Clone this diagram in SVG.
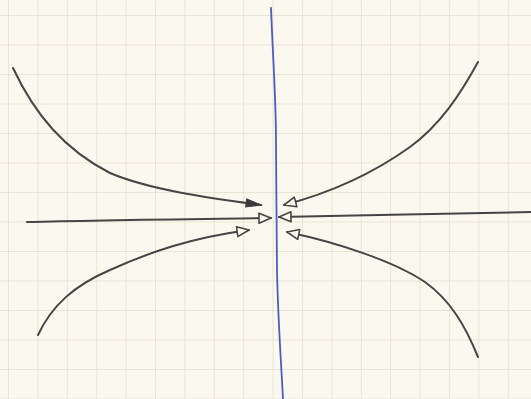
<svg xmlns="http://www.w3.org/2000/svg" width="531" height="399" viewBox="0 0 531 399">
  <style>
    .curve { fill: none; stroke: #454545; stroke-width: 2; stroke-linecap: round; stroke-linejoin: round; }
    .axis { fill: none; stroke: #4d5bc4; stroke-width: 1.8; stroke-linecap: round; }
    .gridline { stroke: #e3dfcc; stroke-width: 1.5; }
  </style>
  <defs>
    <pattern id="grid" patternUnits="userSpaceOnUse" x="8" y="15" width="29.4" height="29.5">
      <rect width="29.4" height="29.5" fill="#fbf9ef"/>
      <line class="gridline" x1="0" y1="0" x2="29.4" y2="0"/>
      <line class="gridline" x1="0" y1="0" x2="0" y2="29.5"/>
    </pattern>
    <marker id="open" markerUnits="userSpaceOnUse" markerWidth="16" markerHeight="12" refX="12" refY="5" orient="auto" viewBox="-1 -1 16 12">
      <path d="M0,0 L12,5 L0,10 Z" fill="#fbf9ef" stroke="#454545" stroke-width="1.6" stroke-linejoin="round"/>
    </marker>
    <marker id="filled" markerUnits="userSpaceOnUse" markerWidth="18" markerHeight="10" refX="15" refY="4" orient="auto" viewBox="-1 -1 18 10">
      <path d="M0,0 L15,4 L0,8 Z" fill="#3a3a3a" stroke="#3a3a3a" stroke-width="1"/>
    </marker>
  </defs>
  <rect width="531" height="399" fill="url(#grid)"/>
  <g id="axis-vertical">
    <path class="axis" d="M271,8 C273,60 276,100 276,140 C276,180 277,240 277,270 C278,320 281,360 283,399"/>
  </g>
  <g id="connectors">
    <path class="curve" d="M13,68 C35,115 65,150 110,173 C150,190 210,198 261,205" marker-end="url(#filled)"/>
    <path class="curve" d="M478,62 C460,95 440,125 410,147 C375,172 330,193 284,205" marker-end="url(#open)"/>
    <path class="curve" d="M27,222 C100,220 200,219 271,218" marker-end="url(#open)"/>
    <path class="curve" d="M531,212 C450,213 360,216 279,217" marker-end="url(#open)"/>
    <path class="curve" d="M38,335 C52,305 75,285 110,270 C150,252 190,238 249,230" marker-end="url(#open)"/>
    <path class="curve" d="M478,357 C465,325 450,300 425,282 C395,262 340,243 287,232" marker-end="url(#open)"/>
  </g>
</svg>
